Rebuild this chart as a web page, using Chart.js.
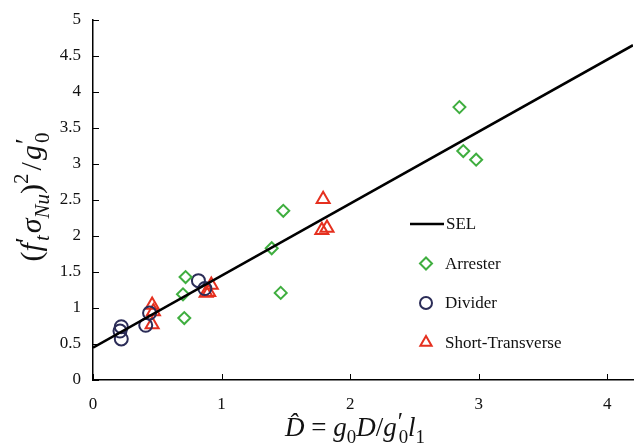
<!DOCTYPE html>
<html><head><meta charset="utf-8">
<script src="https://cdn.jsdelivr.net/npm/chart.js@4/dist/chart.umd.min.js"></script>
<style>html,body{margin:0;padding:0;background:#fff}#wrap{width:635px;height:444px}</style>
</head><body><div id="wrap"><canvas id="c" width="635" height="444"></canvas></div>
<script>
const xTicks=[0,1,2,3,4];
const yTicks=[0,0.5,1,1.5,2,2.5,3,3.5,4,4.5,5];
const selX=[0,4.2];
const selY=[0.45,4.65];
const arresterX=[2.85,2.88,2.98,1.48,1.39,1.46,0.72,0.70,0.71];
const arresterY=[3.79,3.18,3.06,2.35,1.83,1.21,1.43,1.19,0.86];
const dividerX=[0.22,0.21,0.22,0.41,0.44,0.82,0.87];
const dividerY=[0.74,0.68,0.57,0.76,0.93,1.38,1.27];
const stX=[0.46,0.47,0.46,0.92,0.90,0.88,1.79,1.82,1.78];
const stY=[1.04,0.95,0.77,1.32,1.22,1.21,2.51,2.11,2.08];
const legendLabels=['SEL','Arrester','Divider','Short-Transverse'];

const pts=(xs,ys)=>xs.map((x,i)=>({x:x,y:ys[i]}));
const SERIF='"Liberation Serif","DejaVu Serif",serif';

function drawRich(ctx,segs,size){
  let w=0;
  const items=segs.map(s=>{
    const fs=s.fs?size*s.fs:((s.sub||s.sup)?size*0.7:size);
    const font=(s.it?'italic ':'')+fs+'px '+SERIF;
    ctx.font=font;const mw=ctx.measureText(s.t).width;
    const adv=(s.adv!==undefined)?s.adv:mw;
    const it={s:s,font:font,w:adv,dy:s.sub?size*0.25:(s.sup?-size*(s.up||0.42):0),dx:s.dx||0};
    w+=adv+it.dx;return it;});
  let x=-w/2;
  items.forEach(it=>{ctx.font=it.font;x+=it.dx;ctx.fillText(it.s.t,x,it.dy);x+=it.w;});
}

const decor={
  id:'decor',
  afterDraw(chart){
    const ctx=chart.ctx,xs=chart.scales.x,ys=chart.scales.y,a=chart.chartArea;
    ctx.save();
    ctx.strokeStyle='#000';ctx.lineWidth=1;
    xTicks.forEach(v=>{const p=Math.round(xs.getPixelForValue(v))+0.5;ctx.beginPath();ctx.moveTo(p,a.bottom);ctx.lineTo(p,a.bottom-6);ctx.stroke();});
    yTicks.forEach(v=>{const p=Math.round(ys.getPixelForValue(v))+0.5;ctx.beginPath();ctx.moveTo(a.left,p);ctx.lineTo(a.left+6,p);ctx.stroke();});
    const ds=chart.data.datasets;
    ctx.textBaseline='middle';ctx.textAlign='left';
    const lx=410,ly0=224,gap=39.5;
    legendLabels.forEach((lab,i)=>{
      const y=ly0+i*gap;
      if(i===0){ctx.strokeStyle='#000';ctx.lineWidth=2.5;ctx.beginPath();ctx.moveTo(lx,y);ctx.lineTo(lx+34,y);ctx.stroke();}
      else{
        const d=ds[i];
        ctx.fillStyle='rgba(0,0,0,0)';ctx.strokeStyle=d.borderColor;ctx.lineWidth=d.borderWidth;
        Chart.helpers.drawPoint(ctx,{pointStyle:d.pointStyle,radius:d.legendRadius,borderWidth:d.borderWidth},lx+16,y);
      }
      ctx.fillStyle='#111';ctx.font='17px '+SERIF;
      ctx.fillText(lab,i===0?lx+36:lx+35,y+1);
    });
    ctx.fillStyle='#111';ctx.textAlign='left';ctx.textBaseline='alphabetic';
    ctx.save();ctx.translate(41,197);ctx.rotate(-Math.PI/2);
    drawRich(ctx,[{t:'('},{t:'f',it:1},{t:'′',sup:1,fs:0.9,up:0.22,adv:0},{t:'t',sub:1,it:1,dx:2},{t:'σ',it:1,dx:2},{t:'Nu',sub:1,it:1},{t:')'},{t:'2',sup:1},{t:'/',fs:1,dx:3},{t:'g',it:1,dx:2},{t:'′',sup:1,fs:0.9,up:0.22,dx:1,adv:0},{t:'0',sub:1,dx:1}],30);
    ctx.restore();
    ctx.save();ctx.translate(355,436);
    drawRich(ctx,[{t:'D\u0302',it:1},{t:' = '},{t:'g',it:1},{t:'0',sub:1},{t:'D',it:1},{t:'/'},{t:'g',it:1},{t:'′',sup:1,fs:0.9,up:0.22,adv:0,dx:1},{t:'0',sub:1,dx:1},{t:'l',it:1},{t:'1',sub:1}],27);
    ctx.restore();
    ctx.restore();
  }
};

new Chart(document.getElementById('c'),{
  type:'scatter',
  data:{datasets:[
    {label:'SEL',type:'line',data:pts(selX,selY),borderColor:'#000',borderWidth:2.5,pointRadius:0,fill:false,order:0},
    {label:'Arrester',data:pts(arresterX,arresterY),pointStyle:'rectRot',pointRadius:6,legendRadius:6,borderColor:'#3fae3f',backgroundColor:'rgba(0,0,0,0)',borderWidth:2,order:1},
    {label:'Divider',data:pts(dividerX,dividerY),pointStyle:'circle',pointRadius:6.5,legendRadius:6,borderColor:'#2b2c57',backgroundColor:'rgba(0,0,0,0)',borderWidth:2,order:1},
    {label:'Short-Transverse',data:pts(stX,stY),pointStyle:'triangle',pointRadius:7.5,legendRadius:6.5,borderColor:'#e5301f',backgroundColor:'rgba(0,0,0,0)',borderWidth:2,order:1}
  ]},
  options:{
    responsive:false,animation:false,
    layout:{autoPadding:false,padding:{top:20,right:2,left:0,bottom:0}},
    plugins:{legend:{display:false},tooltip:{enabled:false}},
    scales:{
      x:{type:'linear',min:0,max:4.2,
        afterBuildTicks(s){s.ticks=xTicks.map(v=>({value:v}));},
        afterFit(s){s.height=64;s.paddingRight=0;s.paddingLeft=0;},
        grid:{display:false,drawTicks:false},border:{display:true,color:'#000',width:1.5},
        ticks:{padding:14,color:'#111',font:{family:SERIF,size:17},callback:v=>String(v)}},
      y:{type:'linear',min:0,max:5,
        afterBuildTicks(s){s.ticks=yTicks.map(v=>({value:v}));},
        afterFit(s){s.width=93;s.paddingTop=0;s.paddingBottom=0;},
        grid:{display:false,drawTicks:false},border:{display:true,color:'#000',width:1.5},
        ticks:{padding:12,color:'#111',font:{family:SERIF,size:17},callback:v=>String(v)}}
    }
  },
  plugins:[decor]
});
</script></body></html>
